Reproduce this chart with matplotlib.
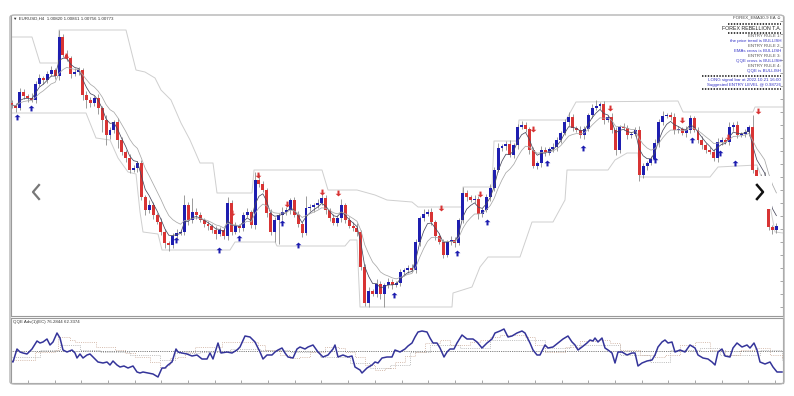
import numpy as np
import pandas as pd
import matplotlib
matplotlib.use('Agg')
from matplotlib import pyplot as plt
from matplotlib.patches import FancyBboxPatch, Rectangle
from matplotlib.lines import Line2D

plt.rcParams['font.family'] = ['Liberation Sans', 'DejaVu Sans']

W, H = 794, 396

# EURUSD H4 candles, prices kept in points above the chart floor
first_open = 213
closes = [211, 208, 224, 220, 218, 216, 232, 238, 236, 242,
          246, 240, 279, 261, 258, 242, 244, 246, 221, 216,
          213, 218, 208, 196, 181, 186, 194, 176, 164, 158,
          146, 148, 153, 119, 106, 111, 101, 94, 84, 73,
          71, 80, 83, 84, 111, 96, 104, 101, 96, 92,
          90, 86, 82, 86, 80, 113, 84, 90, 88, 101,
          104, 91, 136, 132, 126, 103, 84, 96, 101, 104,
          106, 116, 101, 92, 83, 108, 109, 111, 113, 118,
          106, 98, 93, 98, 111, 96, 90, 88, 84, 49,
          13, 25, 22, 32, 22, 31, 34, 31, 33, 44,
          46, 48, 46, 74, 98, 102, 104, 94, 80, 74,
          61, 74, 76, 73, 96, 123, 119, 116, 117, 102,
          106, 119, 128, 146, 168, 170, 172, 161, 171, 189,
          191, 187, 166, 150, 153, 166, 163, 167, 169, 176,
          183, 194, 199, 188, 186, 181, 187, 201, 208, 210,
          212, 196, 199, 186, 166, 189, 188, 181, 182, 186,
          141, 150, 153, 157, 173, 194, 200, 201, 199, 186,
          187, 183, 186, 198, 186, 176, 171, 166, 164, 158,
          174, 176, 174, 189, 191, 181, 182, 184, 189, 146,
          136, 140, 133, 89, 86, 90]
wick_up = [3, 2, 4, 3, 2, 5, 3, 4, 2, 3,
           4, 2, 7, 3, 5, 2, 4, 3, 2, 4,
           3, 2, 4, 2, 5, 3, 2, 4, 3, 2,
           4, 3, 2, 3, 2, 5, 3, 2, 4, 3,
           2, 3, 4, 2, 10, 3, 14, 4, 3, 2,
           3, 2, 4, 3, 2, 6, 3, 4, 2, 3,
           4, 2, 8, 6, 3, 2, 4, 3, 2, 5,
           3, 2, 3, 4, 2, 12, 3, 2, 4, 8,
           3, 2, 4, 3, 6, 2, 3, 4, 5, 2,
           3, 4, 2, 5, 3, 2, 4, 3, 2, 3,
           2, 3, 4, 3, 2, 5, 3, 4, 2, 3,
           3, 2, 4, 3, 2, 6, 3, 2, 4, 3,
           2, 3, 4, 3, 5, 2, 3, 4, 2, 3,
           4, 3, 2, 3, 2, 4, 3, 2, 4, 3,
           2, 3, 5, 3, 2, 4, 3, 2, 4, 6,
           2, 3, 2, 4, 3, 2, 4, 3, 2, 3,
           4, 3, 2, 3, 4, 3, 5, 2, 3, 4,
           3, 2, 4, 3, 2, 3, 4, 2, 3, 3,
           4, 3, 2, 5, 3, 4, 2, 3, 2, 12,
           3, 2, 4, 3, 2, 3]
wick_dn = [3, 4, 2, 3, 4, 2, 3, 2, 4, 3,
           2, 3, 4, 2, 3, 4, 2, 3, 5, 8,
           4, 3, 6, 12, 10, 4, 3, 8, 3, 4,
           3, 2, 4, 3, 5, 3, 4, 2, 3, 5,
           6, 3, 4, 2, 3, 5, 3, 4, 2, 3,
           4, 3, 5, 2, 3, 4, 3, 2, 4, 3,
           2, 3, 4, 3, 2, 4, 3, 10, 24, 5,
           3, 4, 2, 3, 4, 2, 3, 5, 3, 2,
           4, 3, 2, 3, 4, 3, 2, 3, 4, 3,
           3, 4, 2, 3, 5, 13, 3, 4, 2, 3,
           4, 3, 2, 3, 4, 3, 2, 3, 4, 2,
           3, 2, 3, 4, 2, 3, 4, 2, 3, 5,
           3, 2, 4, 3, 2, 3, 4, 2, 3, 4,
           2, 3, 4, 2, 3, 4, 3, 2, 3, 4,
           3, 2, 4, 3, 2, 3, 4, 2, 3, 2,
           3, 4, 2, 3, 5, 3, 2, 4, 3, 2,
           6, 3, 4, 2, 3, 4, 3, 2, 3, 4,
           3, 2, 4, 3, 2, 3, 4, 3, 2, 3,
           4, 3, 2, 3, 4, 3, 2, 3, 4, 3,
           4, 3, 2, 3, 4, 3]

# channel lines (time slot, level)
upper_band = [(-0.5, 279), (5, 279), (7, 253), (11.5, 253), (11.75, 286), (28.5, 286),
              (31, 246), (33.25, 244), (35.75, 238), (37.25, 226), (39.75, 216),
              (42.25, 193), (44.5, 176), (47, 153), (50.25, 153), (51.25, 123),
              (60, 123), (60.5, 146), (77.5, 146), (79, 126), (86.25, 126),
              (90.75, 121), (93.75, 116), (100, 114), (101.5, 109), (112.5, 109),
              (112.75, 129), (120, 129), (120.5, 175), (126.25, 175), (126.75, 196),
              (138.5, 196), (141, 214), (166.5, 215), (167.75, 204), (185.25, 204),
              (185.75, 209), (192.75, 209)]
lower_band = [(-0.5, 203), (18.5, 203), (21, 178), (24.5, 176), (26.5, 158), (29, 144),
              (31, 142), (32, 104), (32.75, 84), (36.5, 82), (37.5, 66), (54.5, 66),
              (55.75, 74), (65.75, 74), (66.25, 70), (83.25, 70), (84.5, 76),
              (86.25, 76), (87, 9), (110, 9), (110.25, 23), (115, 29), (117, 49),
              (119, 59), (127, 59), (130, 94), (135.25, 94), (138.25, 116),
              (138.75, 146), (149, 146), (150.75, 156), (153.75, 163), (156.5, 163),
              (157, 139), (174.5, 139), (176.5, 149), (186.25, 151), (189, 121),
              (190.75, 84), (192.75, 83)]

buy_arrows = [(1.25, 199), (4.75, 208), (41, 76), (51.75, 66), (56.75, 78), (67.5, 93),
              (71.5, 71), (95.5, 21), (111.25, 63), (118.75, 94), (133.75, 153),
              (142.75, 168), (160.75, 156), (170, 176), (177, 163), (180.75, 153)]
sell_arrows = [(13.5, 260), (55, 103), (61.5, 141), (68.75, 112), (77.5, 124),
               (81.5, 123), (107.25, 108), (117, 122), (130.25, 187), (149.5, 208),
               (167.5, 196), (179, 179), (186.5, 205)]

# QQE sub-window
qqe_line = [(-0.25, 40), (0.25, 39), (1.25, 52), (2, 49), (2.75, 48), (3.75, 47), (5, 52),
            (6.25, 60), (7, 58), (7.75, 59), (8.75, 62), (9.5, 56), (10.25, 59), (11.25, 68),
            (12, 63), (12.75, 51), (13.75, 49), (15, 51), (15.75, 48), (16.25, 43), (17, 47),
            (17.75, 43), (18.75, 46), (19.5, 47), (20.25, 44), (21.5, 39), (22.75, 38),
            (23.75, 39), (24.5, 36), (25.25, 40), (26.25, 36), (27, 34), (28, 35), (29, 33),
            (30.25, 35), (31.25, 29), (32, 28), (32.75, 29), (34, 28), (35.25, 27),
            (36.5, 24), (37.5, 33), (38.25, 33), (39, 36), (40, 39), (41, 52), (41.5, 49),
            (42.5, 48), (43.75, 47), (45, 45), (46.25, 46), (47.5, 42), (48.75, 42),
            (49.5, 48), (50.25, 42), (51.5, 58), (52.25, 48), (53.75, 49), (55, 48),
            (56.25, 51), (57, 54), (58.25, 65), (59.5, 64), (60.75, 59), (62, 49),
            (62.75, 42), (63.75, 46), (65, 46), (65.75, 49), (66.5, 51), (67.5, 53),
            (68.25, 48), (69, 44), (70.25, 43), (71.25, 52), (72, 54), (73.25, 52),
            (74, 54), (75.25, 56), (76.5, 49), (77.75, 44), (79, 46), (80.25, 52),
            (80.75, 56), (81.5, 44), (82.75, 46), (84, 44), (85, 45), (85.75, 34),
            (87, 31), (87.5, 28), (88.75, 33), (90, 36), (90.75, 39), (91.5, 38),
            (92.5, 43), (93.75, 44), (95, 44), (95.75, 51), (97, 49), (98.25, 52),
            (99, 55), (100, 58), (100.75, 64), (101.5, 69), (102.5, 70), (103.75, 69),
            (104.5, 63), (105.25, 58), (106.25, 58), (107, 53), (108, 44), (108.75, 49),
            (109.5, 52), (110.5, 52), (111.25, 58), (112.5, 66), (113.75, 62),
            (115.25, 62), (116.25, 59), (117.5, 53), (118.75, 58), (120, 62),
            (120.75, 68), (122, 70), (123, 72), (124, 64), (125, 65), (126.25, 68),
            (127.5, 70), (128.25, 68), (129.5, 58), (130.25, 51), (131.25, 46), (132, 46),
            (133.25, 56), (134, 53), (135.25, 54), (136.5, 58), (137.75, 62), (139, 65),
            (140, 59), (140.75, 56), (141.5, 51), (142.5, 54), (143.75, 58), (144.5, 61),
            (145.25, 60), (145.75, 63), (146.5, 59), (147.5, 63), (148.25, 53), (149, 51),
            (150, 48), (150.75, 38), (151.5, 49), (152.5, 49), (153.75, 46), (155, 48),
            (155.75, 48), (156.5, 35), (157.5, 38), (158.75, 40), (160, 41), (160.75, 46),
            (161.5, 54), (162.5, 59), (163.25, 61), (164, 58), (165, 59), (165.75, 49),
            (167, 51), (168.25, 49), (169.5, 56), (170.75, 53), (171.5, 46), (172.75, 43),
            (174, 42), (175, 39), (175.75, 36), (176.5, 49), (177.5, 52), (178.25, 45),
            (179.5, 44), (180.25, 53), (181.25, 58), (182.5, 54), (183.75, 56),
            (184.5, 53), (185.5, 58), (186.25, 51), (187, 39), (188.25, 37), (189.5, 39),
            (190.25, 34), (191.25, 29), (192.5, 29)]
qqe_trail_a = [(-0.25, 41), (4.5, 41), (5.75, 49), (10.75, 51), (11.5, 64), (14.5, 61),
               (15.75, 59), (20, 59), (21, 54), (24, 54), (25.75, 51), (28.25, 48),
               (30.75, 44), (34.5, 39), (37, 33), (38.5, 36), (39.5, 43), (41.5, 44),
               (43.25, 49), (45.75, 54), (50.75, 54), (52.5, 59), (58.25, 59), (61.5, 56),
               (63.25, 51), (67, 46), (69.5, 43), (72, 44), (74.5, 49), (78.25, 54),
               (81.5, 53), (83.25, 49), (85.75, 44), (88.25, 36), (90.75, 31), (93.25, 33),
               (95.75, 39), (98.25, 45), (100.75, 49), (103.25, 58), (107, 61), (109.5, 56),
               (112, 56), (114.5, 59), (117, 61), (119.5, 64), (122, 66), (124.5, 66),
               (128.25, 64), (130.75, 56), (133.25, 49), (135.75, 49), (138.25, 54),
               (142, 60), (145.75, 61), (149.5, 58), (152, 51), (157, 46), (160.75, 44),
               (163.25, 46), (167, 56), (170.75, 59), (174.5, 51), (178.25, 46), (182, 51),
               (185.75, 53), (189.5, 46), (192.5, 43)]
qqe_trail_b = [(-0.25, 44), (4.5, 44), (7, 51), (12, 56), (17, 51), (22, 49), (29.5, 46),
               (37, 41), (40.75, 48), (47, 49), (54.5, 52), (62, 51), (69.5, 49), (77, 44),
               (84.5, 38), (89.5, 33), (94.5, 36), (99.5, 49), (104.5, 56), (112, 53),
               (119.5, 61), (127, 61), (133.25, 53), (139.5, 56), (147, 56), (152, 46),
               (159.5, 39), (164.5, 51), (172, 53), (177, 46), (182, 46), (187, 51),
               (192.5, 41)]
qqe_mid = 50

header = '\u25bc EURUSD,H4  1.00820 1.00861 1.00756 1.00773'
qqe_header = 'QQE Adv(1)(EC) 76.2844 62.3374'
ea_name = 'FOREX_EMA30-9 EA \u263a'
info_lines = ['FOREX REBELLION T.A.', 'ENTRY RULE 1:', 'the price trend is BULLISH',
              'ENTRY RULE 2:', 'EMAs cross is BULLISH', 'ENTRY RULE 3:',
              'QQE cross is BULLISH', 'ENTRY RULE 4:', 'QQE is BULLISH',
              'LONG signal bar at 2022.10.21 16:00', 'Suggested ENTRY LEVEL @ 0.98726']
info_colors = ['#222222', '#555555', '#3535c8', '#555555', '#3535c8', '#555555',
               '#3535c8', '#555555', '#3535c8', '#3535c8', '#3535c8']
info_rows = [28, 36, 41, 46, 51, 56, 61, 66, 71, 80, 85]

BLUE = '#1e1eb0'
RED = '#d83434'


# pixel helpers for layout
def fx(px):
    return px / W


def fy(py):
    return 1 - py / H


fig = plt.figure(figsize=(W / 100, H / 100), dpi=100)
fig.patch.set_facecolor('white')

ax = fig.add_axes([fx(11), fy(316), 772 / W, 300 / H])
qx = fig.add_axes([fx(11), fy(383), 772 / W, 65 / H])

# candles
n = len(closes)
bar_x = np.arange(n) * 0.98
c = np.array(closes, dtype=float)
o = np.r_[first_open, c[:-1]]
hi = np.maximum(o, c) + np.array(wick_up)
lo = np.minimum(o, c) - np.array(wick_dn)
bull = c >= o
ax.vlines(bar_x, lo, hi, color='#8c8c8c', lw=0.6, zorder=2)
ax.bar(bar_x, np.maximum(np.abs(c - o), 1.2), bottom=np.minimum(o, c), width=0.74,
       color=np.where(bull, BLUE, RED), lw=0, zorder=3)

# EMAs
s = pd.Series(c)
ax.plot(bar_x, s.ewm(span=4, adjust=False).mean(), color='#4a4a5e', lw=0.55, zorder=4)
ax.plot(bar_x, s.ewm(span=9, adjust=False).mean(), color='#a8a8a8', lw=0.55, zorder=4)

# channel
for band in (upper_band, lower_band):
    bx, by = zip(*band)
    ax.plot(bx, by, color='#cfcfcf', lw=0.7, zorder=1)

# signal arrows
up_marker = [(0, 1), (1, 0.1), (0.35, 0.1), (0.35, -1), (-0.35, -1), (-0.35, 0.1), (-1, 0.1), (0, 1)]
dn_marker = [(x, -y) for x, y in up_marker]
ax.plot(*zip(*buy_arrows), ls='none', marker=up_marker, ms=4.2, color=BLUE, mew=0, zorder=6)
ax.plot(*zip(*sell_arrows), ls='none', marker=dn_marker, ms=4.2, color=RED, mew=0, zorder=6)

ax.set_xlim(-0.25, 192.75)
ax.set_ylim(0, 300)
ax.yaxis.set_ticks_position('right')
ax.set_yticks(np.arange(9, 300, 13))
ax.set_yticklabels([])
ax.set_xticks([])
ax.tick_params(axis='y', direction='in', length=2, color='#999999', width=0.6)
for side, sp in ax.spines.items():
    sp.set_color('#9a9a9a')
    sp.set_linewidth(0.8)
ax.spines['top'].set_visible(False)

# QQE panel
tx, tv = zip(*qqe_trail_b)
qx.plot(tx, tv, drawstyle='steps-post', color='#b4b4b4', lw=0.6, ls=(0, (1.2, 1.4)))
tx, tv = zip(*qqe_trail_a)
qx.plot(tx, tv, drawstyle='steps-post', color='#d0b4a4', lw=0.6, ls=(0, (1.2, 1.4)))
qx.axhline(qqe_mid, color='#555555', lw=0.6, ls=(0, (1, 1.2)))
qt, qv = zip(*qqe_line)
qx.plot(qt, qv, color='#34349a', lw=1.1)
qx.set_xlim(-0.25, 192.75)
qx.set_ylim(18, 83)
qx.set_yticks([])
qx.set_xticks(np.arange(4, 193, 6.67))
qx.set_xticklabels([])
qx.tick_params(axis='x', direction='in', length=2, color='#999999', width=0.6)
for sp in qx.spines.values():
    sp.set_color('#9a9a9a')
    sp.set_linewidth(0.8)

# outer card frame
fig.patches.append(FancyBboxPatch((fx(10), fy(384)), 774 / W, 369 / H,
                                  boxstyle='round,pad=0,rounding_size=0.006',
                                  transform=fig.transFigure, fc='none', ec='#b4b4b4', lw=1.0))

# texts
fig.text(fx(13), fy(19), header, fontsize=3.2, color='#333333', va='center')
fig.text(fx(13), fy(322), qqe_header, fontsize=3.2, color='#333333', va='center')
fig.text(fx(781), fy(17), ea_name, fontsize=3.2, color='#444444', ha='right', va='center')
for txt, col, row in zip(info_lines, info_colors, info_rows):
    size = 3.8 if row == 28 else 3.2
    fig.text(fx(781), fy(row), txt, fontsize=size, color=col, ha='right', va='center')

for y0, x0 in [(23.5, 728), (33, 728), (76, 702), (89, 702)]:
    fig.add_artist(Line2D([fx(x0), fx(781)], [fy(y0), fy(y0)], transform=fig.transFigure,
                          color='#333333', lw=1.3, ls=(0, (0.8, 0.8))))

# carousel buttons
fig.add_artist(Line2D([fx(39), fx(33), fx(39)], [fy(185), fy(192), fy(199)],
                      transform=fig.transFigure, color='#777777', lw=1.6))
fig.patches.append(Rectangle((fx(751), fy(209)), 21 / W, 33 / H, transform=fig.transFigure,
                             fc='white', ec='none', zorder=5))
fig.add_artist(Line2D([fx(757), fx(763), fx(757)], [fy(185), fy(192), fy(199)],
                      transform=fig.transFigure, color='#111111', lw=1.8, zorder=6))

fig.savefig('out.png', dpi=100, facecolor='white')
